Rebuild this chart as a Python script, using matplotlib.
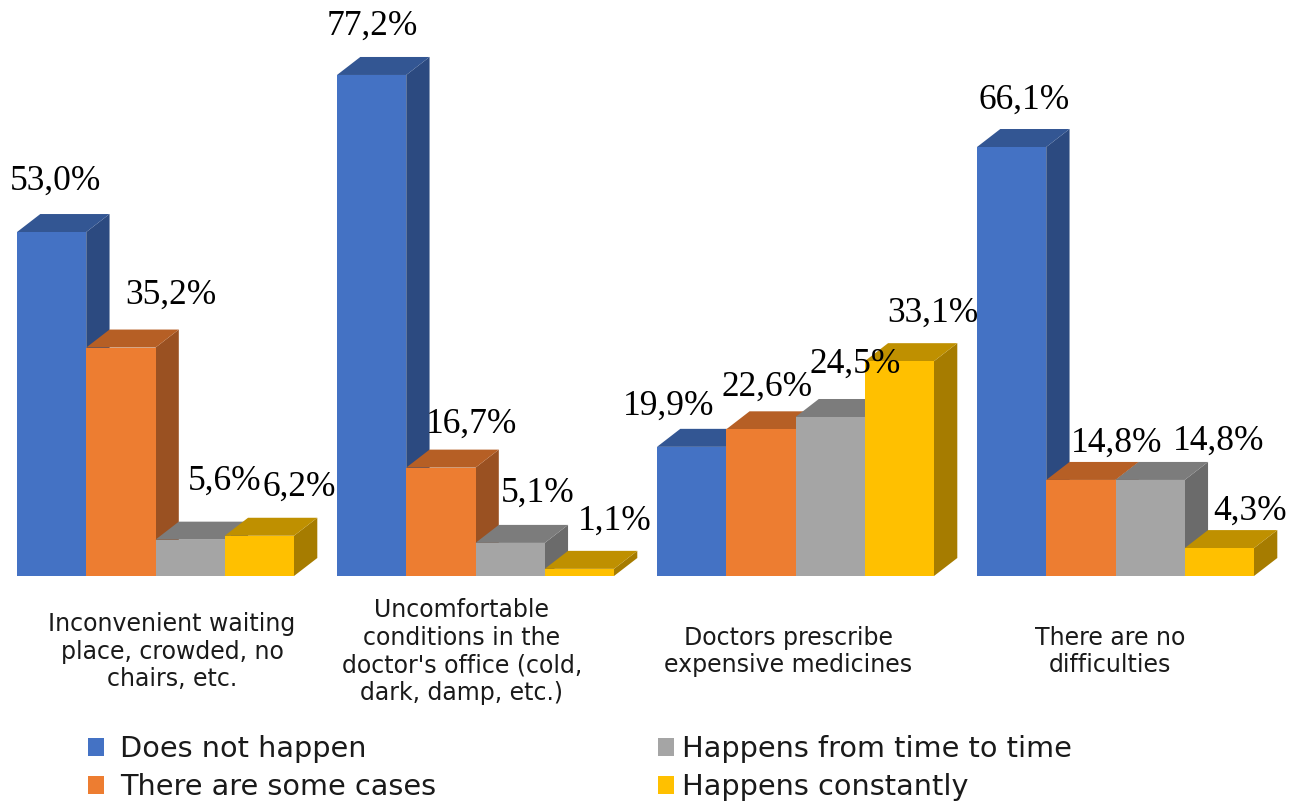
import matplotlib
matplotlib.use('Agg')
import matplotlib.pyplot as plt
from matplotlib.patches import Patch, Polygon

W, H = 1301, 805

categories = ['Inconvenient waiting\nplace, crowded, no\nchairs, etc.',
              'Uncomfortable\nconditions in the\ndoctor\'s office (cold,\ndark, damp, etc.)',
              'Doctors prescribe\nexpensive medicines',
              'There are no\ndifficulties']
series = ['Does not happen', 'There are some cases', 'Happens from time to time', 'Happens constantly']
does_not = [53.0, 77.2, 19.9, 66.1]
some_cases = [35.2, 16.7, 22.6, 14.8]
time_to_time = [5.6, 5.1, 24.5, 14.8]
constantly = [6.2, 1.1, 33.1, 4.3]
values = [does_not, some_cases, time_to_time, constantly]

front = ['#4472C4', '#ED7D31', '#A5A5A5', '#FFC000']
top = ['#335693', '#B65F25', '#7C7C7C', '#BF9000']
side = ['#2C4A80', '#9A5122', '#6B6B6B', '#A67C00']

# centre of each value label in picture pixels, by series then group
label_x = [[55, 372, 669, 1024], [171, 472, 767, 1117], [225, 538, 855, 1219], [299, 615, 933, 1250]]
label_y = [[181, 26, 406, 100], [295, 424, 387, 443], [481, 493, 364, 441], [487, 521, 313, 511]]
cat_x = [172, 462, 788, 1110]

# scale: one group = 320 px, one percent = 6.49 px, baseline at y=576 px
group_px = 320
pct_px = 6.49
base_px = 576
first_left = 17
bar_w = 69.25 / group_px
dx = 23.3 / group_px
dy = 18 / pct_px


def to_x(px):
    return (px - first_left) / group_px


def to_y(py):
    return (base_px - py) / pct_px


fig = plt.figure(figsize=(W / 100, H / 100), dpi=100)
ax = fig.add_axes([0, 0, 1, 1])
ax.set_xlim(to_x(0), to_x(W))
ax.set_ylim(to_y(H), to_y(0))
ax.axis('off')

for g in range(len(categories)):
    for s in range(len(series)):
        v = values[s][g]
        x0 = g + s * bar_w
        x1 = x0 + bar_w
        z = 2 + g * 10 + s
        ax.add_patch(Polygon([(x1, 0), (x1 + dx, dy), (x1 + dx, v + dy), (x1, v)],
                             facecolor=side[s], edgecolor='none', zorder=z))
        ax.add_patch(Polygon([(x0, v), (x0 + dx, v + dy), (x1 + dx, v + dy), (x1, v)],
                             facecolor=top[s], edgecolor='none', zorder=z))
        ax.bar(x0, v, width=bar_w, align='edge', color=front[s], zorder=z)

for s in range(len(series)):
    for g in range(len(categories)):
        ax.text(to_x(label_x[s][g]), to_y(label_y[s][g]), f'{values[s][g]:.1f}%'.replace('.', ','),
                family='Liberation Serif', fontsize=25.5, color='black', ha='center', va='center', zorder=100)

for g, name in enumerate(categories):
    ax.text(to_x(cat_x[g]), to_y(651.5), name, family='DejaVu Sans', fontsize=17, color='#1a1a1a',
            ha='center', va='center', linespacing=1.19, zorder=100)


def column_legend(idx, left_px, pad):
    handles = [Patch(facecolor=front[i], edgecolor='none') for i in idx]
    return ax.legend(handles, [series[i] for i in idx], loc='upper left',
                     bbox_to_anchor=(left_px / W, 1 - 735 / H), frameon=False,
                     prop={'family': 'DejaVu Sans', 'size': 20.7}, labelcolor='#1a1a1a',
                     handlelength=0.56, handleheight=0.56, handletextpad=pad,
                     labelspacing=0.35, borderpad=0, borderaxespad=0)


# ax.legend replaces the previous one, so keep the first column as an extra artist
ax.add_artist(column_legend([0, 1], 88, 0.56))
column_legend([2, 3], 658, 0.28)

fig.savefig('out.png', dpi=100)
